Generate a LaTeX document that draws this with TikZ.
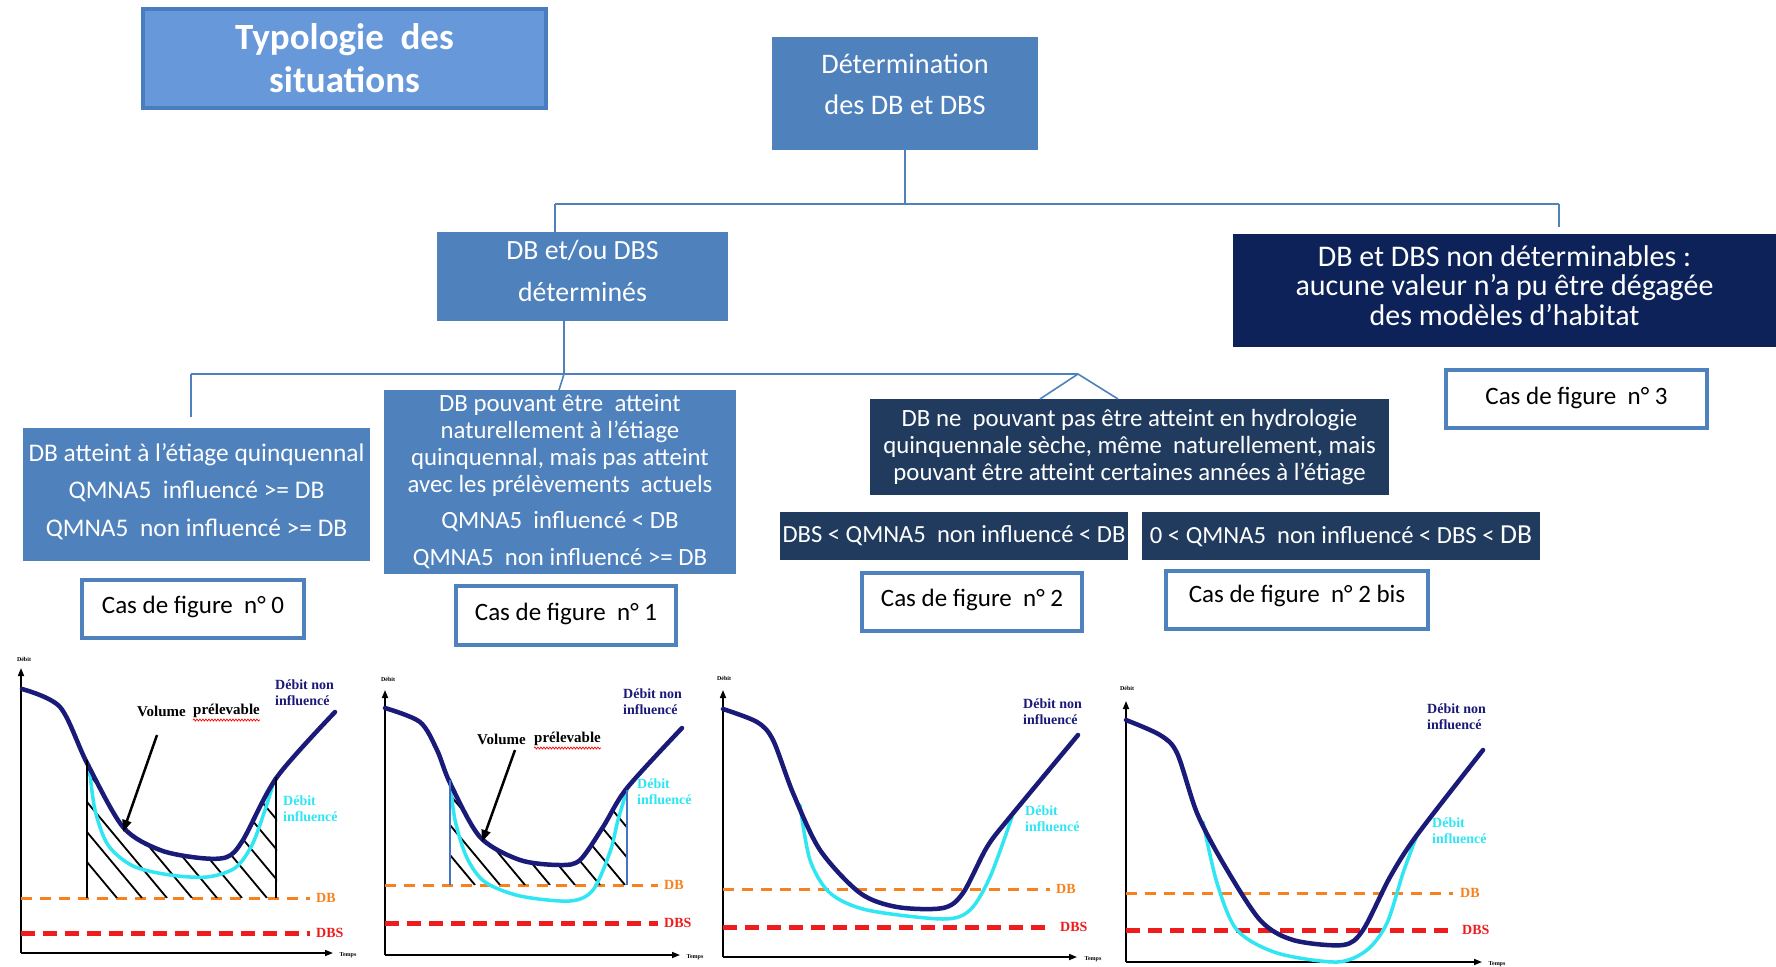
\documentclass[tikz,border=0pt]{standalone}
\usepackage{fontspec}
\setmainfont{Carlito}
\newfontfamily\tnr{Liberation Serif}
\usetikzlibrary{arrows.meta,decorations.pathmorphing}
\definecolor{boxblue}{HTML}{4F81BD}
\definecolor{typofill}{HTML}{6798DA}
\definecolor{typoline}{HTML}{4A7CC0}
\definecolor{ndnavy}{HTML}{0C2259}
\definecolor{slate}{HTML}{213B5E}
\definecolor{curvenavy}{HTML}{1A1A78}
\definecolor{curvecyan}{HTML}{2FE6F2}
\definecolor{dborange}{HTML}{F5821F}
\definecolor{dbsred}{HTML}{EE1C1C}
\definecolor{thinblue}{HTML}{4472C4}
\begin{document}
\begin{tikzpicture}[x=1pt,y=-1pt,
  box/.style={rectangle, inner sep=0pt, align=center, text=white},
  btext/.style={inner sep=0pt, align=center, text=white},
  bluebox/.style={box, fill=boxblue},
  darkbox/.style={box, fill=slate},
  navybox/.style={box, fill=ndnavy},
  casbox/.style={rectangle, inner sep=0pt, fill=white, draw=boxblue, line width=4pt},
  castext/.style={inner sep=0pt, font=\fontsize{25}{28}\selectfont},
  link/.style={draw=boxblue, line width=1.6pt},
  axis/.style={line width=1.6pt, -{Triangle[length=8pt,width=6pt]}},
  dbline/.style={dborange, line width=3pt, dash pattern=on 11pt off 8pt},
  dbsline/.style={dbsred, line width=5pt, dash pattern=on 14pt off 8pt},
  navycurve/.style={curvenavy, line width=4.5pt, line cap=round},
  cyancurve/.style={curvecyan, line width=3.5pt, line cap=round},
  hatch/.style={black, line width=1.8pt},
  clab/.style={font=\tnr\bfseries\fontsize{14}{16}\selectfont, align=left, inner sep=0pt},
  vlab/.style={font=\tnr\bfseries\fontsize{15}{16}\selectfont, inner sep=0pt},
  tinylab/.style={font=\tnr\bfseries\fontsize{6}{7}\selectfont, inner sep=0pt},
  ptr/.style={black, line width=2.5pt, -{Triangle[length=12pt,width=9pt]}},
  wavy/.style={red, line width=0.7pt, decorate, decoration={snake, amplitude=1pt, segment length=3pt}}
]
\useasboundingbox (0,0) rectangle (1776,966);
\fill[white] (0,0) rectangle (1776,966);

% ---------- top boxes ----------
\node[box, fill=typofill, draw=typoline, line width=4pt, minimum width=403pt, minimum height=99pt,
  font=\bfseries\fontsize{37}{43}\selectfont] (typo) at (344.5,58.5) {Typologie\ \ des\\situations};

\node[bluebox, minimum width=266pt, minimum height=113pt] (det) at (905,93.5) {};
\node[btext, font=\fontsize{28.3}{41}\selectfont] (dett) at ([yshift=9pt]det.center) {Détermination\\des DB et DBS};

\node[bluebox, minimum width=291pt, minimum height=89pt] (dbo) at (582.5,276.5) {};
\node[btext, font=\fontsize{27.8}{42}\selectfont] (dbot) at ([yshift=6pt]dbo.center) {DB et/ou DBS\\déterminés};

\node[navybox, minimum width=543pt, minimum height=113pt] (nd) at (1504.5,290.5) {};
\node[btext, font=\fontsize{30}{29.5}\selectfont] (ndt) at ([yshift=5pt]nd.center) {DB et DBS non déterminables :\\aucune valeur n’a pu être dégagée\\des modèles d’habitat};

\node[bluebox, minimum width=347pt, minimum height=133pt] (b0) at (196.5,494.5) {};
\node[btext, font=\fontsize{25.4}{37.5}\selectfont] (b0t) at ([yshift=3pt]b0.center)
  {DB atteint à l’étiage quinquennal\\QMNA5\ \ influencé >= DB\\QMNA5\ \ non influencé >= DB};

\node[bluebox, minimum width=352pt, minimum height=184pt, font=\fontsize{24.8}{27}\selectfont] (b1) at (560,482)
  {DB pouvant être\ \ atteint\\naturellement à l’étiage\\quinquennal, mais pas atteint\\avec les prélèvements\ \ actuels\\[9pt]QMNA5\ \ influencé < DB\\[10pt]QMNA5\ \ non influencé >= DB};
\node[darkbox, minimum width=519pt, minimum height=96pt, font=\fontsize{24.8}{27}\selectfont] (b2) at (1129.5,447)
  {DB ne\ \ pouvant pas être atteint en hydrologie\\quinquennale sèche, même\ \ naturellement, mais\\pouvant être atteint certaines années à l’étiage};
\node[darkbox, minimum width=348pt, minimum height=48pt, font=\fontsize{24.6}{27}\selectfont] (b2a) at (954,536)
  {DBS < QMNA5\ \ non influencé < DB};
\node[darkbox, minimum width=398pt, minimum height=48pt, font=\fontsize{24.6}{27}\selectfont] (b2b) at (1341,536)
  {0 < QMNA5\ \ non influencé < DBS < {\fontsize{27.5}{27}\selectfont DB}};

\node[casbox, minimum width=222pt, minimum height=58pt] (c0) at (193,609) {};
\node[castext] (c0t) at ([yshift=2pt]c0.center) {Cas de figure\ \ n° 0};
\node[casbox, minimum width=220pt, minimum height=59pt] (c1) at (566,615.5) {};
\node[castext] (c1t) at ([yshift=2pt]c1.center) {Cas de figure\ \ n° 1};
\node[casbox, minimum width=220pt, minimum height=58pt] (c2) at (972,602) {};
\node[castext] (c2t) at ([yshift=2pt]c2.center) {Cas de figure\ \ n° 2};
\node[casbox, minimum width=262pt, minimum height=58pt] (c2b) at (1297,600) {};
\node[castext] (c2bt) at ([yshift=4pt]c2b.center) {Cas de figure\ \ n° 2 bis};
\node[casbox, minimum width=261pt, minimum height=58pt] (c3) at (1576.5,399) {};
\node[castext] (c3t) at ([yshift=1pt]c3.center) {Cas de figure\ \ n° 3};

% ---------- connectors ----------
\coordinate (hL) at (555,204);
\coordinate (hR) at (1559,204);
\coordinate (ndtop) at (1559,227);
\draw[link] (det.south) -- (det.south |- hL);
\draw[link] (hL) -- (hR);
\draw[link] (hL) -- (hL |- dbo.north);
\draw[link] (hR) -- (ndtop);
\coordinate (kL) at (191,374);
\coordinate (kM) at (564,374);
\coordinate (kR) at (1078,374);
\coordinate (b0top) at (191,417);
\coordinate (b1top) at (559,390);
\coordinate (b2l) at (1040,399);
\coordinate (b2r) at (1118,399);
\draw[link] (kM |- dbo.south) -- (kM);
\draw[link] (kL) -- (kR);
\draw[link] (kL) -- (b0top);
\draw[link] (kM) -- (b1top);
\draw[link] (b2l) -- (kR) -- (b2r);

% ---------- chart 0 ----------
\draw[axis] (21,953) -- (21,668);
\draw[axis] (21,953) -- (333,953);
\node[tinylab] (d0) at (24,659) {Débit};
\node[tinylab] (t0) at (348,955) {Temps};
\draw[dbline] (21,898) -- (310,898);
\draw[dbsline] (21,933) -- (310,933);
\node[clab, text=dborange, anchor=west] (db0) at (316,898) {DB};
\node[clab, text=dbsred, anchor=west] (dbs0) at (316,933) {DBS};
\begin{scope}
  \clip plot[smooth] coordinates {(87,763) (123,827) (160,850) (200,858) (227,857) (243,840) (277,777)} -- (277,898) -- (87,898) -- cycle;
  \foreach \k in {0,...,9} \draw[hatch] ({117+25*\k},898) -- ++(-150,-180);
\end{scope}
\draw[cyancurve] plot[smooth] coordinates {(89,765) (95,810) (108,845) (133,866) (170,875) (207,877) (235,868) (252,845) (265,810) (275,778)};
\draw[navycurve] plot[smooth] coordinates {(22,689) (60,707) (87,763) (123,827) (160,850) (200,858) (227,857) (243,840) (277,777) (335,712)};
\draw[line width=2.5pt] (87,760) -- (87,898);
\draw[line width=2.5pt] (276,777) -- (276,898);
\node[vlab, anchor=east] (vol0) at (186,711) {Volume};
\node[vlab, anchor=west] (pre0) at (193,711) {prélevable};
\draw[wavy] ([yshift=-2pt]pre0.south west) -- ([yshift=-2pt]pre0.south east);
\coordinate (a0s) at (157,735);
\coordinate (a0e) at (123,832);
\draw[ptr] (a0s) -- (a0e);
\node[clab, text=curvenavy, anchor=north west] (nn0) at (275,680) {Débit non\\influencé};
\node[clab, text=curvecyan, anchor=north west] (in0) at (283,796) {Débit\\influencé};

% ---------- chart 1 ----------
\draw[axis] (385,955) -- (385,690);
\draw[axis] (385,955) -- (680,955);
\node[tinylab] (d1) at (388,679) {Débit};
\node[tinylab] (t1) at (695,957) {Temps};
\draw[dbline] (385,885) -- (658,885);
\draw[dbsline] (385,923) -- (658,923);
\node[clab, text=dborange, anchor=west] (db1) at (664,885) {DB};
\node[clab, text=dbsred, anchor=west] (dbs1) at (664,923) {DBS};
\begin{scope}
  \clip plot[smooth] coordinates {(450,783) (480,837) (520,860) (560,865) (580,860) (603,827) (627,788)} -- (627,885) -- (450,885) -- cycle;
  \foreach \k in {0,...,8} \draw[hatch] ({475+25*\k},885) -- ++(-150,-180);
\end{scope}
\draw[cyancurve] plot[smooth] coordinates {(450,780) (455,820) (467,858) (485,882) (520,896) (570,901) (593,890) (610,852) (618,820) (627,790)};
\draw[navycurve] plot[smooth] coordinates {(385,708) (420,722) (437,750) (450,783) (480,837) (520,860) (560,865) (580,860) (603,827) (627,788) (682,728)};
\draw[thinblue, line width=1.2pt] (450,780) -- (450,885);
\draw[thinblue, line width=1.2pt] (627,790) -- (627,885);
\node[vlab, anchor=east] (vol1) at (526,739) {Volume};
\node[vlab, anchor=west] (pre1) at (534,739) {prélevable};
\draw[wavy] ([yshift=-2pt]pre1.south west) -- ([yshift=-2pt]pre1.south east);
\coordinate (a1s) at (515,750);
\coordinate (a1e) at (482,842);
\draw[ptr] (a1s) -- (a1e);
\node[clab, text=curvenavy, anchor=north west] (nn1) at (623,689) {Débit non\\influencé};
\node[clab, text=curvecyan, anchor=north west] (in1) at (637,779) {Débit\\influencé};

% ---------- chart 2 ----------
\draw[axis] (723,957) -- (723,690);
\draw[axis] (723,957) -- (1077,957);
\node[tinylab] (d2) at (724,678) {Débit};
\node[tinylab] (t2) at (1093,959) {Temps};
\draw[dbline] (723,889) -- (1050,889);
\draw[dbsline] (723,927) -- (1050,927);
\node[clab, text=dborange, anchor=west] (db2) at (1056,889) {DB};
\node[clab, text=dbsred, anchor=west] (dbs2) at (1060,927) {DBS};
\draw[cyancurve] plot[smooth] coordinates {(800,805) (810,860) (830,893) (867,910) (943,919) (970,910) (990,877) (1012,817)};
\draw[navycurve] plot[smooth] coordinates {(723,709) (757,722) (773,740) (793,793) (820,850) (860,893) (897,907) (943,908) (963,893) (987,847) (1010,817) (1078,735)};
\node[clab, text=curvenavy, anchor=north west] (nn2) at (1023,699) {Débit non\\influencé};
\node[clab, text=curvecyan, anchor=north west] (in2) at (1025,806) {Débit\\influencé};

% ---------- chart 3 ----------
\draw[axis] (1126,962) -- (1126,701);
\draw[axis] (1126,962) -- (1482,962);
\node[tinylab] (d3) at (1127,688) {Débit};
\node[tinylab] (t3) at (1497,964) {Temps};
\draw[dbline] (1126,893) -- (1453,893);
\draw[dbsline] (1126,930) -- (1453,930);
\node[clab, text=dborange, anchor=west] (db3) at (1460,893) {DB};
\node[clab, text=dbsred, anchor=west] (dbs3) at (1462,930) {DBS};
\draw[cyancurve] plot[smooth] coordinates {(1203,822) (1217,883) (1237,930) (1277,953) (1337,962) (1367,950) (1387,923) (1403,873) (1417,835)};
\draw[navycurve] plot[smooth] coordinates {(1126,720) (1160,735) (1177,753) (1197,813) (1223,863) (1260,920) (1293,940) (1343,945) (1363,930) (1390,877) (1417,835) (1483,750)};
\node[clab, text=curvenavy, anchor=north west] (nn3) at (1427,704) {Débit non\\influencé};
\node[clab, text=curvecyan, anchor=north west] (in3) at (1432,818) {Débit\\influencé};
\end{tikzpicture}
\end{document}
